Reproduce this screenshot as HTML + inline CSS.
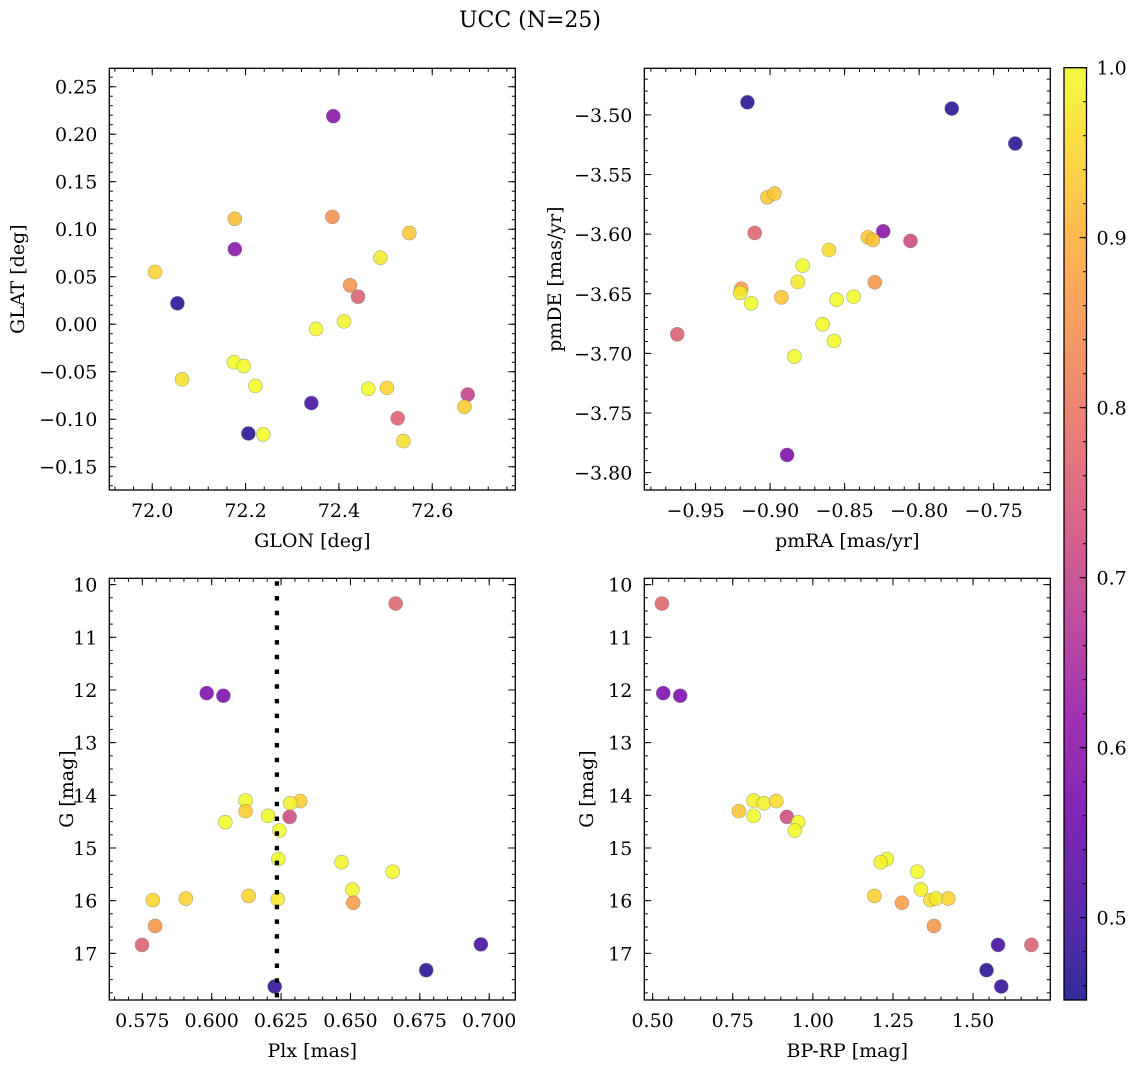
<!DOCTYPE html>
<html><head><meta charset="utf-8"><style>
html,body{margin:0;padding:0;background:#fff;}
svg{display:block;font-family:"DejaVu Serif","Liberation Serif",serif;}
</style></head><body>
<svg id="fig" width="1136" height="1067" viewBox="0 0 1136 1067" xmlns="http://www.w3.org/2000/svg">
<defs>
<linearGradient id="plasma" x1="0" y1="1" x2="0" y2="0"></linearGradient>
</defs>
<text x="530" y="27" font-size="22" text-anchor="middle">UCC (N=25)</text>
</svg>
<script>
// ---- data ----
const p1GLON = [72.388,72.177,72.386,72.551,72.177,72.489,72.006,72.424,72.441,72.054,72.411,72.351,72.175,72.196,72.064,72.221,72.463,72.503,72.676,72.341,72.669,72.526,72.206,72.238,72.538];
const p1GLAT = [0.219,0.111,0.113,0.096,0.079,0.070,0.055,0.041,0.029,0.022,0.003,-0.005,-0.040,-0.044,-0.058,-0.065,-0.068,-0.067,-0.074,-0.083,-0.087,-0.099,-0.115,-0.116,-0.123];
const p1Prob = [0.6,0.92,0.85,0.93,0.6,0.98,0.95,0.85,0.76,0.47,0.99,1.0,1.0,1.0,0.97,1.0,1.0,0.95,0.7,0.5,0.94,0.76,0.47,1.0,0.97];

const p2pmRA = [-0.9152,-0.7781,-0.7355,-0.9018,-0.8971,-0.9103,-0.8241,-0.8344,-0.8310,-0.8058,-0.8605,-0.8781,-0.8813,-0.8297,-0.9194,-0.9201,-0.8924,-0.8440,-0.8554,-0.9127,-0.8647,-0.8571,-0.9623,-0.8837,-0.8886];
const p2pmDE = [-3.4894,-3.4947,-3.5240,-3.5691,-3.5660,-3.5990,-3.5976,-3.6026,-3.6049,-3.6057,-3.6133,-3.6264,-3.6401,-3.6404,-3.6457,-3.6493,-3.6530,-3.6524,-3.6549,-3.6580,-3.6756,-3.6896,-3.6840,-3.7027,-3.7852];
const p2Prob = [0.47,0.47,0.47,0.93,0.93,0.77,0.6,0.93,0.92,0.72,0.96,1.0,0.98,0.86,0.87,0.98,0.93,1.0,1.0,1.0,1.0,1.0,0.76,1.0,0.58];

const p3Plx = [0.6663,0.5982,0.6042,0.6122,0.6319,0.6283,0.6122,0.6203,0.6281,0.6049,0.6244,0.6240,0.6468,0.6652,0.6507,0.5788,0.5907,0.6133,0.6238,0.6510,0.5796,0.5749,0.6970,0.6773,0.6227];
const p3G = [10.36,12.06,12.11,14.10,14.11,14.15,14.30,14.39,14.41,14.51,14.67,15.21,15.27,15.45,15.79,15.99,15.96,15.91,15.97,16.04,16.48,16.84,16.83,17.32,17.63];
const p3Prob = [0.77,0.58,0.58,1.0,0.94,0.99,0.94,1.0,0.72,1.0,1.0,1.0,0.99,1.0,0.99,0.95,0.95,0.95,0.98,0.87,0.86,0.76,0.5,0.47,0.48];
const plxLine = 0.6235;

const p4BPRP = [0.529,0.533,0.586,0.815,0.847,0.886,0.769,0.815,0.919,0.954,0.944,1.231,1.212,1.326,1.337,1.192,1.278,1.367,1.385,1.423,1.378,1.578,1.682,1.542,1.588];
const p4G = [10.36,12.06,12.11,14.10,14.15,14.11,14.30,14.39,14.41,14.51,14.67,15.21,15.27,15.45,15.79,15.91,16.04,15.99,15.96,15.96,16.48,16.84,16.84,17.32,17.63];
const p4Prob = [0.77,0.58,0.58,0.99,0.99,0.96,0.93,1.0,0.72,1.0,1.0,1.0,0.99,1.0,0.99,0.94,0.87,0.96,0.98,0.95,0.86,0.5,0.76,0.47,0.48];

const p1XTicks = [72.0,72.2,72.4,72.6];
const p1YTicks = [0.25,0.20,0.15,0.10,0.05,0.00,-0.05,-0.10,-0.15];
const p2XTicks = [-0.95,-0.90,-0.85,-0.80,-0.75];
const p2YTicks = [-3.50,-3.55,-3.60,-3.65,-3.70,-3.75,-3.80];
const p3XTicks = [0.575,0.600,0.625,0.650,0.675,0.700];
const gTicks = [10,11,12,13,14,15,16,17];
const p4XTicks = [0.50,0.75,1.00,1.25,1.50];
const cbTicks = [0.5,0.6,0.7,0.8,0.9,1.0];
const vmin = 0.4516, vmax = 1.0;

// ---- helpers ----
const NS = "http://www.w3.org/2000/svg";
const svg = document.getElementById('fig');
const FS = 19;
function mk(tag, attrs, parent){
  const e = document.createElementNS(NS, tag);
  for (const k in attrs) e.setAttribute(k, attrs[k]);
  (parent||svg).appendChild(e);
  return e;
}
const plasmaStops = ["#0d0887","#41049d","#6a00a8","#8f0da4","#b12a90","#cc4778","#e16462","#f2844b","#fca636","#fcce25","#f0f921"];
function hex2rgb(h){return [parseInt(h.slice(1,3),16),parseInt(h.slice(3,5),16),parseInt(h.slice(5,7),16)];}
function plasma(t){
  t=Math.max(0,Math.min(1,t));
  const f=t*10, i=Math.min(9,Math.floor(f)), r=f-i;
  const a=hex2rgb(plasmaStops[i]), b=hex2rgb(plasmaStops[i+1]);
  return `rgb(${Math.round(a[0]+(b[0]-a[0])*r)},${Math.round(a[1]+(b[1]-a[1])*r)},${Math.round(a[2]+(b[2]-a[2])*r)})`;
}
function fmt(v,d){ const s=Math.abs(v).toFixed(d); return (v< -1e-9?"\u2212":"")+s; }

function panel(o){
  const g = mk('g',{});
  
  
  const L=o.x0,R=o.x1,T=o.y0,B=o.y1;
  const sx = v => L + (v-o.xmin)/(o.xmax-o.xmin)*(R-L);
  const sy = o.invert ? (v => T + (v-o.ymin)/(o.ymax-o.ymin)*(B-T)) : (v => B - (v-o.ymin)/(o.ymax-o.ymin)*(B-T));
  const pg = mk('g',{},g);
  
  
  const clip = mk('clipPath',{id:o.name+'-clip'},g);
  mk('rect',{x:L,y:T,width:R-L,height:B-T},clip);
  pg.setAttribute('clip-path','url(#'+o.name+'-clip)');
  for (let i=0;i<o.xs.length;i++){
    const c = mk('circle',{cx:sx(o.xs[i]),cy:sy(o.ys[i]),r:7,fill:plasma((o.c[i]-vmin)/(vmax-vmin)),'fill-opacity':0.85,stroke:'#777','stroke-opacity':0.6,'stroke-width':0.6},pg);
    
    
  }
  if (o.vline!==undefined){
    const ln = mk('line',{x1:sx(o.vline),x2:sx(o.vline),y1:T+3,y2:B,stroke:'#000','stroke-width':4.3,'stroke-dasharray':'4.5 10.2'},pg);
    
    
  }
  const fr = mk('rect',{x:L,y:T,width:R-L,height:B-T,fill:'none',stroke:'#000','stroke-width':1.3},g);
  
  
  const xa = mk('g',{},g);
  
  
  const ya = mk('g',{},g);
  
  
  const tk={stroke:'#000','stroke-width':1};
  const s0=Math.ceil((o.xmin)/o.xminor-1e-6), s1=Math.floor(o.xmax/o.xminor+1e-6);
  for(let k=s0;k<=s1;k++){const X=sx(k*o.xminor);
    mk('line',Object.assign({x1:X,x2:X,y1:B,y2:B-3.5},tk),xa); mk('line',Object.assign({x1:X,x2:X,y1:T,y2:T+3.5},tk),xa);}
  const lo=Math.min(o.ymin,o.ymax), hi=Math.max(o.ymin,o.ymax);
  const t0=Math.ceil(lo/o.yminor-1e-6), t1=Math.floor(hi/o.yminor+1e-6);
  for(let k=t0;k<=t1;k++){const Y=sy(k*o.yminor);
    mk('line',Object.assign({x1:L,x2:L+3.5,y1:Y,y2:Y},tk),ya); mk('line',Object.assign({x1:R,x2:R-3.5,y1:Y,y2:Y},tk),ya);}
  o.xt.forEach(v=>{const X=sx(v);
    mk('line',Object.assign({x1:X,x2:X,y1:B,y2:B-7},tk),xa); mk('line',Object.assign({x1:X,x2:X,y1:T,y2:T+7},tk),xa);
    const t=mk('text',{x:X,y:B+27,'font-size':FS,'text-anchor':'middle'},xa); t.textContent=fmt(v,o.xd);
    
    
  });
  o.yt.forEach(v=>{const Y=sy(v);
    mk('line',Object.assign({x1:L,x2:L+7,y1:Y,y2:Y},tk),ya); mk('line',Object.assign({x1:R,x2:R-7,y1:Y,y2:Y},tk),ya);
    const t=mk('text',{x:L-12,y:Y+7,'font-size':FS,'text-anchor':'end'},ya); t.textContent=fmt(v,o.yd);
    
    
  });
  const xl=mk('text',{x:(L+R)/2,y:B+57,'font-size':FS,'text-anchor':'middle'},g); xl.textContent=o.xlabel;
  
  
  const yx=o.ylx, yy=(T+B)/2;
  const yl=mk('text',{x:yx,y:yy,'font-size':FS,'text-anchor':'middle',transform:`rotate(-90 ${yx} ${yy})`},g); yl.textContent=o.ylabel;
  
  
}

panel({name:'glon-glat-panel',x0:109.3,x1:515.3,y0:68.3,y1:490,xmin:71.908,xmax:72.778,ymin:-0.1745,ymax:0.2694,
  xs:p1GLON,ys:p1GLAT,c:p1Prob,xt:p1XTicks,yt:p1YTicks,xd:1,yd:2,xminor:0.04,yminor:0.01,xlabel:'GLON [deg]',ylabel:'GLAT [deg]',ylx:24});
panel({name:'proper-motion-panel',x0:644.3,x1:1050.3,y0:68.3,y1:490,xmin:-0.9844,xmax:-0.712,ymin:-3.8146,ymax:-3.4609,
  xs:p2pmRA,ys:p2pmDE,c:p2Prob,xt:p2XTicks,yt:p2YTicks,xd:2,yd:2,xminor:0.01,yminor:0.01,xlabel:'pmRA [mas/yr]',ylabel:'pmDE [mas/yr]',ylx:561});
panel({name:'plx-g-panel',x0:109.3,x1:515.3,y0:578.3,y1:1000,xmin:0.5631,xmax:0.7094,ymin:9.88,ymax:17.886,invert:true,vline:plxLine,
  xs:p3Plx,ys:p3G,c:p3Prob,xt:p3XTicks,yt:gTicks,xd:3,yd:0,xminor:0.005,yminor:0.25,xlabel:'Plx [mas]',ylabel:'G [mag]',ylx:73});
panel({name:'cmd-panel',x0:644.3,x1:1050.3,y0:578.3,y1:1000,xmin:0.474,xmax:1.741,ymin:9.88,ymax:17.886,invert:true,
  xs:p4BPRP,ys:p4G,c:p4Prob,xt:p4XTicks,yt:gTicks,xd:2,yd:0,xminor:0.05,yminor:0.25,xlabel:'BP-RP [mag]',ylabel:'G [mag]',ylx:593});

// ---- colorbar ----
const grad=document.getElementById('plasma');
for(let i=0;i<=20;i++){const t=i/20; const v=vmin+t*(vmax-vmin);
  mk('stop',{offset:t,'stop-color':plasma((v-vmin)/(vmax-vmin)),'stop-opacity':0.85},grad);}
const cb=mk('g',{});


const cL=1064,cR=1086.5,cT=67.7,cB=1000;
const cy=v=>cB-(v-vmin)/(vmax-vmin)*(cB-cT);
mk('rect',{x:cL,y:cT,width:cR-cL,height:cB-cT,fill:'url(#plasma)',stroke:'#000','stroke-width':1.3},cb);
for(let k=23;k<=50;k++){const v=k*0.02; if(v<vmin||v>vmax+1e-9)continue; mk('line',{x1:cR,x2:cR-3.5,y1:cy(v),y2:cy(v),stroke:'#000','stroke-width':1},cb);}
cbTicks.forEach(v=>{mk('line',{x1:cR,x2:cR-7,y1:cy(v),y2:cy(v),stroke:'#000','stroke-width':1},cb);
  const t=mk('text',{x:cR+10,y:cy(v)+7,'font-size':FS},cb); t.textContent=v.toFixed(1);
  
  
});
</script>
</body></html>
